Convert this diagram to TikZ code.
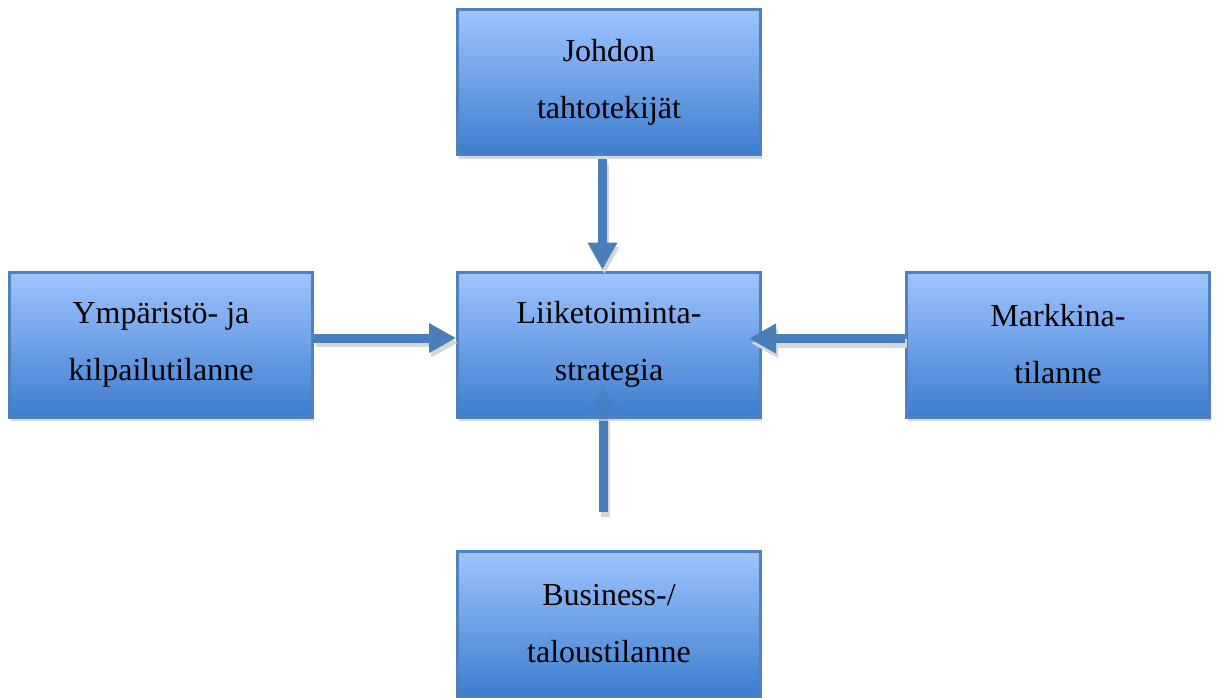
\documentclass[tikz,border=0pt]{standalone}
\usepackage{fontspec}
\setmainfont{Liberation Serif}
\usetikzlibrary{arrows.meta,calc,shadows}
\definecolor{boxtop}{RGB}{158,196,255}
\definecolor{boxbottom}{RGB}{62,125,206}
\definecolor{boxedge}{RGB}{79,129,189}
\definecolor{arrowblue}{RGB}{74,126,187}
\definecolor{shade}{RGB}{214,214,214}
\tikzset{
  factor/.style={rectangle, draw=boxedge, line width=2.25pt,
    top color=boxtop, bottom color=boxbottom,
    minimum width=227.25pt, minimum height=108.75pt, inner sep=0pt,
    align=center, font=\fontsize{24}{42.75}\selectfont,
    drop shadow={shadow xshift=0.75pt, shadow yshift=-3pt, opacity=1, fill=shade}},
  flow/.style={draw=arrowblue, line width=6.75pt,
    -{Triangle[length=20.25pt, width=21pt]}, arrowblue},
  flowshadow/.style={draw=shade, line width=6.75pt,
    -{Triangle[length=20.25pt, width=21pt]}, shade,
    transform canvas={xshift=1.5pt, yshift=-3.5pt}}
}
\begin{document}
\begin{tikzpicture}[x=0.75pt, y=-0.75pt]
\useasboundingbox (0,0) rectangle (1217,697);

% incoming arrow from below, partly hidden by the central box
\coordinate (bstart) at (603,512);
\coordinate (bend) at (603,383);
\draw[flowshadow] (bstart) -- (bend);
\draw[flow] (bstart) -- (bend);

% boxes
\node[factor] (top) at (609,82) {Johdon\\tahtotekijät};
\node[factor] (left) at (161,344.5) {Ympäristö- ja\\kilpailutilanne};
\node[factor] (right) at (1058,344.5) {Markkina-\\tilanne};
\node[factor] (bottom) at (609,623.5) {Business-/\\taloustilanne};
\node[factor] (mid) at (609,344.5) {Liiketoiminta-\\strategia};

% faint trace of the lower arrow over the central box
\draw[flow, opacity=0.3] (bstart) -- (bend);

% arrows into the central box
\draw[flowshadow] ($(top.south)+(-6.5,3)$) -- ($(mid.north)+(-6.5,-1)$);
\draw[flow] ($(top.south)+(-6.5,3)$) -- ($(mid.north)+(-6.5,-1)$);

\draw[flowshadow] ($(left.east)+(0,-6.5)$) -- ($(mid.west)+(0,-6.5)$);
\draw[flow] ($(left.east)+(0,-6.5)$) -- ($(mid.west)+(0,-6.5)$);

\draw[flowshadow] ($(right.west)+(0,-6)$) -- ($(mid.east)+(-13,-6)$);
\draw[flow] ($(right.west)+(0,-6)$) -- ($(mid.east)+(-13,-6)$);
\end{tikzpicture}
\end{document}
